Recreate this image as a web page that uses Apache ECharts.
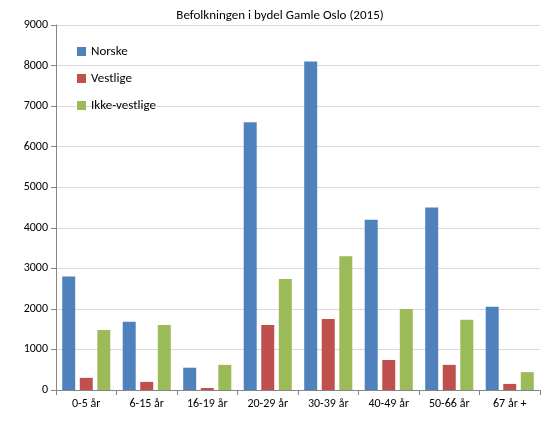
<!DOCTYPE html>
<html><head><meta charset="utf-8">
<script src="https://cdn.jsdelivr.net/npm/echarts@6/dist/echarts.min.js"></script>
<style>html,body{margin:0;padding:0;background:#fff}#c{width:560px;height:424px}</style>
</head><body><div id="c"></div>
<script>
var categories = ['0-5 år','6-15 år','16-19 år','20-29 år','30-39 år','40-49 år','50-66 år','67 år +'];
var norske = [2800,1680,550,6600,8100,4200,4500,2050];
var vestlige = [300,200,50,1600,1750,740,620,150];
var ikkeVestlige = [1480,1600,620,2740,3300,2000,1730,440];
var chart = echarts.init(document.getElementById('c'));
var font = 'Calibri, Carlito, "Liberation Sans", sans-serif';
chart.setOption({
  animation:false,
  textStyle:{fontFamily:font},
  title:{text:'Befolkningen i bydel Gamle Oslo (2015)',left:'center',top:4,textStyle:{fontSize:13,fontWeight:'normal',color:'#000',fontFamily:font}},
  legend:{orient:'vertical',left:72,top:40,itemWidth:9,itemHeight:9,itemGap:14,icon:'rect',textStyle:{fontSize:13,color:'#000'}},
  grid:{left:56,right:20,top:25,bottom:34},
  xAxis:{type:'category',data:categories,axisTick:{show:true,alignWithLabel:false,lineStyle:{color:'#868686'}},axisLine:{lineStyle:{color:'#868686'}},axisLabel:{color:'#000',fontSize:12}},
  yAxis:{type:'value',min:0,max:9000,interval:1000,axisLine:{show:true,lineStyle:{color:'#868686'}},axisTick:{show:true,lineStyle:{color:'#868686'}},splitLine:{lineStyle:{color:'#d9d9d9'}},axisLabel:{color:'#000',fontSize:12,formatter:function(v){return String(v);}}},
  series:[
    {name:'Norske',type:'bar',data:norske,itemStyle:{color:'#4F81BD'},barWidth:13,barGap:'35%'},
    {name:'Vestlige',type:'bar',data:vestlige,itemStyle:{color:'#C0504D'},barWidth:13},
    {name:'Ikke-vestlige',type:'bar',data:ikkeVestlige,itemStyle:{color:'#9BBB59'},barWidth:13}
  ]
});
</script></body></html>
